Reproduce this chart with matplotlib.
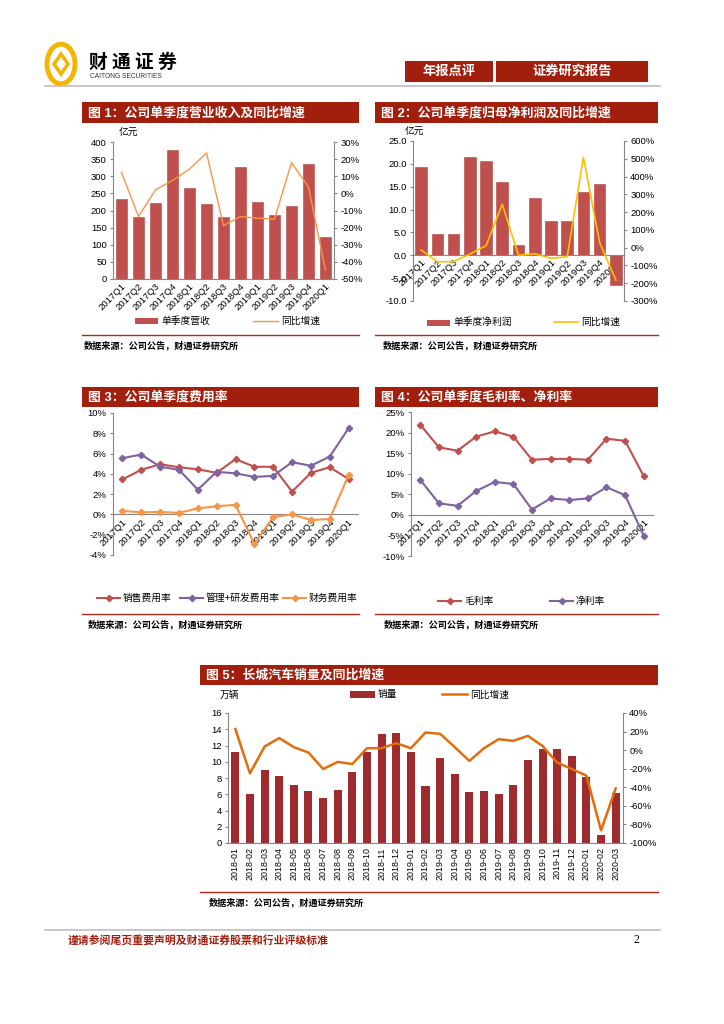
import matplotlib
matplotlib.use('Agg')
import matplotlib.pyplot as plt
from matplotlib.patches import Rectangle, Circle, Polygon
from matplotlib.lines import Line2D
from matplotlib.ticker import FuncFormatter

plt.rcParams['font.family'] = ['Liberation Sans', 'Noto Sans CJK SC', 'DejaVu Sans']
plt.rcParams['axes.unicode_minus'] = False

# ---------------- data ----------------
quarters = ['2017Q1', '2017Q2', '2017Q3', '2017Q4', '2018Q1', '2018Q2', '2018Q3',
            '2018Q4', '2019Q1', '2019Q2', '2019Q3', '2019Q4', '2020Q1']
revenue = [233, 180, 223, 377, 265, 220, 180, 327, 226, 188, 212, 335, 123]
revenue_yoy = [12.2, -13.5, 2.1, 7.5, 14.2, 23.6, -18.8, -13.5, -14.5, -15.0, 18.0, 3.7, -45.0]
net_profit = [19.4, 4.6, 4.6, 21.4, 20.6, 16.0, 2.2, 12.6, 7.6, 7.4, 13.8, 15.6, -6.6]
net_profit_yoy = [-13, -79, -79, -36, 11, 244, -43, -34, -60, -51, 508, 28, -182]
sales_rate = [3.45, 4.4, 4.95, 4.65, 4.45, 4.1, 5.45, 4.7, 4.7, 2.25, 4.1, 4.65, 3.5]
admin_rd_rate = [5.55, 5.9, 4.7, 4.4, 2.45, 4.2, 4.05, 3.7, 3.8, 5.15, 4.8, 5.7, 8.5]
fin_rate = [0.35, 0.2, 0.25, 0.15, 0.6, 0.8, 0.95, -2.9, -0.25, 0.0, -0.55, -0.45, 3.9]
gross_margin = [21.9, 16.4, 15.6, 19.0, 20.3, 19.0, 13.4, 13.6, 13.6, 13.4, 18.5, 18.0, 9.4]
net_margin = [8.5, 2.8, 2.2, 5.8, 8.0, 7.5, 1.3, 4.0, 3.6, 4.0, 6.7, 4.8, -5.1]
months = ['2018-01', '2018-02', '2018-03', '2018-04', '2018-05', '2018-06', '2018-07',
          '2018-08', '2018-09', '2018-10', '2018-11', '2018-12', '2019-01', '2019-02',
          '2019-03', '2019-04', '2019-05', '2019-06', '2019-07', '2019-08', '2019-09',
          '2019-10', '2019-11', '2019-12', '2020-01', '2020-02', '2020-03']
sales_volume = [11.18, 5.98, 8.95, 8.25, 7.2, 6.35, 5.5, 6.55, 8.8, 11.18, 13.45, 13.5,
                11.25, 6.97, 10.47, 8.45, 6.3, 6.4, 6.06, 7.1, 10.2, 11.6, 11.6, 10.7,
                8.1, 1.03, 6.1]
sales_yoy = [22.7, -25, 3.9, 13, 3.2, -2.6, -20.3, -12.7, -14.9, 2.1, 2.1, 7.5, 2.1, 19,
             17.6, 3.2, -11.6, 2.1, 11.8, 10, 15.4, 4.5, -13.4, -20.3, -27.5, -86.4, -41.2]

titles = ['图 1：公司单季度营业收入及同比增速', '图 2：公司单季度归母净利润及同比增速',
          '图 3：公司单季度费用率', '图 4：公司单季度毛利率、净利率',
          '图 5：长城汽车销量及同比增速']
source = '数据来源：公司公告，财通证券研究所'

# ---------------- helpers ----------------
W, H = 724, 1024
fig = plt.figure(figsize=(7.24, 10.24), dpi=100)

TITLE_RED = '#A21F0D'
AXC = '#868686'
BAR1 = '#C0504D'
BAR5 = '#9E2B2E'
ORANGE = '#F79646'
YELLOW = '#FFC000'
PURPLE = '#7E62A1'
ORANGE5 = '#E46C0A'
TICK_FS = 6.8
LEG_FS = 7


def add_ax(l, t, r, b):
    return fig.add_axes([l / W, 1 - b / H, (r - l) / W, (b - t) / H])


def ftext(x, y, s, **kw):
    fig.text(x / W, 1 - y / H, s, **kw)


def frect(x0, y0, x1, y1, **kw):
    fig.patches.append(Rectangle((x0 / W, 1 - y1 / H), (x1 - x0) / W, (y1 - y0) / H,
                                 transform=fig.transFigure, **kw))


def fline(x0, y0, x1, y1, **kw):
    fig.lines.append(Line2D([x0 / W, x1 / W], [1 - y0 / H, 1 - y1 / H],
                            transform=fig.transFigure, **kw))


def title_bar(x0, y0, x1, y1, s):
    frect(x0, y0, x1, y1, color=TITLE_RED, lw=0)
    ftext(x0 + 6, (y0 + y1) / 2 + 0.5, s, color='white', fontsize=9.3, fontweight='bold',
          va='center', ha='left')


def source_line(x0, x1, y, ty, tx):
    fline(x0, y, x1, y, color='#B22A1A', lw=1.0)
    ftext(tx, ty, source, fontsize=6.6, fontweight='bold', va='center', ha='left')


def style_axis(ax, left=True):
    for sp in ['top', 'right', 'left', 'bottom']:
        ax.spines[sp].set_visible(False)
    ax.spines['bottom'].set_visible(True)
    ax.spines['bottom'].set_color(AXC)
    if left:
        ax.spines['left'].set_visible(True)
        ax.spines['left'].set_color(AXC)
    ax.tick_params(axis='y', labelsize=TICK_FS, length=2.5, color=AXC, pad=2)
    ax.tick_params(axis='x', labelsize=6.8, length=0, pad=2)
    ax.set_facecolor('none')


def style_right(ax2):
    for sp in ['top', 'left', 'bottom']:
        ax2.spines[sp].set_visible(False)
    ax2.spines['right'].set_color(AXC)
    ax2.tick_params(axis='y', labelsize=TICK_FS, length=2.5, color=AXC, pad=2)


pct = FuncFormatter(lambda v, p: '%d%%' % round(v))

# ---------------- header ----------------
fig.patches.append(Circle((61 / W, 1 - 64 / H), 14 / W, transform=fig.transFigure,
                          facecolor='none', edgecolor='#F4B400', lw=3.5))
fig.patches.append(Polygon([(61 / W, 1 - 54 / H), (68 / W, 1 - 64 / H), (61 / W, 1 - 74 / H),
                            (54 / W, 1 - 64 / H)], transform=fig.transFigure,
                           facecolor='none', edgecolor='#F4B400', lw=2.5))
ftext(89, 62, '财 通 证 券', fontsize=13.5, fontweight='bold', va='center', ha='left',
      family=['Noto Sans CJK SC'])
ftext(90, 76, 'CAITONG SECURITIES', fontsize=4.8, va='center', ha='left', color='#333333')
frect(405, 61, 493, 82, color=TITLE_RED, lw=0)
frect(496, 61, 648, 82, color=TITLE_RED, lw=0)
ftext(449, 71.5, '年报点评', fontsize=9.5, color='white', fontweight='bold', va='center', ha='center')
ftext(572, 71.5, '证券研究报告', fontsize=9.5, color='white', fontweight='bold', va='center', ha='center')
fline(45, 86, 660, 86, color='#BFBFBF', lw=1.2)

# ---------------- footer ----------------
fline(45, 930, 660, 930, color='#BFBFBF', lw=1.2)
ftext(68, 940, '谨请参阅尾页重要声明及财通证券股票和行业评级标准', fontsize=7.8, color='#A21F0D',
      fontweight='bold', va='center', ha='left')
ftext(636, 940, '2', fontsize=8.5, va='center', ha='center', family=['Liberation Serif'])

x13 = list(range(len(quarters)))

# ---------------- chart 1 ----------------
title_bar(82, 102, 359, 123, titles[0])
ax1 = add_ax(113, 142, 334, 279)
style_axis(ax1)
ax1.bar(x13, revenue, width=0.7, color=BAR1, edgecolor='#B5443F', lw=0.4, zorder=2)
ax1.set_ylim(0, 400)
ax1.set_yticks(range(0, 401, 50))
ax1.set_xlim(-0.5, 12.5)
ax1.set_xticks(x13)
ax1.set_xticklabels(quarters, rotation=45, ha='right', va='top', rotation_mode='anchor')
ax1b = ax1.twinx()
style_right(ax1b)
ax1b.plot(x13, revenue_yoy, color=ORANGE, lw=1.0, zorder=3)
ax1b.set_ylim(-50, 30)
ax1b.set_yticks(range(-50, 31, 10))
ax1b.yaxis.set_major_formatter(pct)
ftext(119, 133, '亿元', fontsize=LEG_FS, va='center', ha='left')
frect(135, 318, 158, 324, color=BAR1, lw=0)
ftext(161, 321, '单季度营收', fontsize=LEG_FS, va='center', ha='left')
fline(253, 321, 278, 321, color=ORANGE, lw=1.0)
ftext(281, 321, '同比增速', fontsize=LEG_FS, va='center', ha='left')
source_line(82, 359, 335, 345, 84)

# ---------------- chart 2 ----------------
title_bar(375, 102, 658, 123, titles[1])
ax2 = add_ax(413, 141, 624, 301)
style_axis(ax2)
ax2.spines['bottom'].set_position(('data', 0))
ax2.bar(x13, net_profit, width=0.72, color=BAR1, edgecolor='#B5443F', lw=0.4, zorder=2)
ax2.set_ylim(-10, 25)
ax2.set_yticks(range(-10, 26, 5))
ax2.yaxis.set_major_formatter(FuncFormatter(lambda v, p: '%.1f' % v))
ax2.set_xlim(-0.5, 12.5)
ax2.set_xticks(x13)
ax2.set_xticklabels(quarters, rotation=45, ha='right', va='top', rotation_mode='anchor')
ax2b = ax2.twinx()
style_right(ax2b)
ax2b.plot(x13, net_profit_yoy, color=YELLOW, lw=1.2, zorder=3)
ax2b.set_ylim(-300, 600)
ax2b.set_yticks(range(-300, 601, 100))
ax2b.yaxis.set_major_formatter(pct)
ftext(405, 132, '亿元', fontsize=LEG_FS, va='center', ha='left')
frect(427, 320, 450, 326, color=BAR1, lw=0)
ftext(453, 322, '单季度净利润', fontsize=LEG_FS, va='center', ha='left')
fline(554, 322, 578, 322, color=YELLOW, lw=1.2)
ftext(581, 322, '同比增速', fontsize=LEG_FS, va='center', ha='left')
source_line(375, 658, 335, 345, 383)

# ---------------- chart 3 ----------------
title_bar(82, 387, 359, 407, titles[2])
ax3 = add_ax(113, 413, 358, 555)
style_axis(ax3)
ax3.spines['bottom'].set_position(('data', 0))
for vals, col in [(sales_rate, '#C0504D'), (admin_rd_rate, PURPLE), (fin_rate, ORANGE)]:
    ax3.plot(x13, vals, color=col, lw=1.5, marker='D', ms=3.2, zorder=3)
ax3.set_ylim(-4, 10)
ax3.set_yticks(range(-4, 11, 2))
ax3.yaxis.set_major_formatter(pct)
ax3.set_xlim(-0.5, 12.5)
ax3.set_xticks(x13)
ax3.set_xticklabels(quarters, rotation=45, ha='right', va='top', rotation_mode='anchor')
for x0, col, lab in [(97, '#C0504D', '销售费用率'), (180, PURPLE, '管理+研发费用率'),
                     (283, ORANGE, '财务费用率')]:
    fline(x0, 598, x0 + 23, 598, color=col, lw=1.5)
    fig.lines.append(Line2D([(x0 + 11.5) / W], [1 - 598 / H], transform=fig.transFigure,
                            color=col, marker='D', ms=3.2))
    ftext(x0 + 26, 598, lab, fontsize=LEG_FS, va='center', ha='left')
source_line(82, 359, 614, 624, 88)

# ---------------- chart 4 ----------------
title_bar(375, 387, 658, 407, titles[3])
ax4 = add_ax(411, 412, 653, 556)
style_axis(ax4)
ax4.spines['bottom'].set_position(('data', 0))
for vals, col in [(gross_margin, '#C0504D'), (net_margin, PURPLE)]:
    ax4.plot(x13, vals, color=col, lw=1.5, marker='D', ms=3.2, zorder=3)
ax4.set_ylim(-10, 25)
ax4.set_yticks(range(-10, 26, 5))
ax4.yaxis.set_major_formatter(pct)
ax4.set_xlim(-0.5, 12.5)
ax4.set_xticks(x13)
ax4.set_xticklabels(quarters, rotation=45, ha='right', va='top', rotation_mode='anchor')
for x0, col, lab in [(438, '#C0504D', '毛利率'), (550, PURPLE, '净利率')]:
    fline(x0, 601, x0 + 23, 601, color=col, lw=1.5)
    fig.lines.append(Line2D([(x0 + 11.5) / W], [1 - 601 / H], transform=fig.transFigure,
                            color=col, marker='D', ms=3.2))
    ftext(x0 + 26, 601, lab, fontsize=LEG_FS, va='center', ha='left')
source_line(375, 658, 614, 624, 384)

# ---------------- chart 5 ----------------
title_bar(200, 665, 658, 685, titles[4])
ax5 = add_ax(228, 713, 623, 843)
style_axis(ax5)
x27 = list(range(len(months)))
ax5.bar(x27, sales_volume, width=0.55, color=BAR5, lw=0, zorder=2)
ax5.set_ylim(0, 16)
ax5.set_yticks(range(0, 17, 2))
ax5.set_xlim(-0.5, 26.5)
ax5.set_xticks(x27)
ax5.set_xticklabels(months, rotation=90, ha='center', va='top')
ax5.tick_params(axis='x', labelsize=6.4, pad=3)
ax5b = ax5.twinx()
style_right(ax5b)
ax5b.plot(x27, sales_yoy, color=ORANGE5, lw=1.8, zorder=3)
ax5b.set_ylim(-100, 40)
ax5b.set_yticks(range(-100, 41, 20))
ax5b.yaxis.set_major_formatter(pct)
ftext(220, 695, '万辆', fontsize=LEG_FS, va='center', ha='left')
frect(350, 691, 375, 698, color=BAR5, lw=0)
ftext(378, 694.5, '销量', fontsize=LEG_FS, va='center', ha='left')
fline(442, 693.5, 467, 693.5, color=ORANGE5, lw=1.8)
ftext(470, 694.5, '同比增速', fontsize=LEG_FS, va='center', ha='left')
source_line(200, 658, 892, 902, 209)

fig.savefig('out.png', dpi=100)
